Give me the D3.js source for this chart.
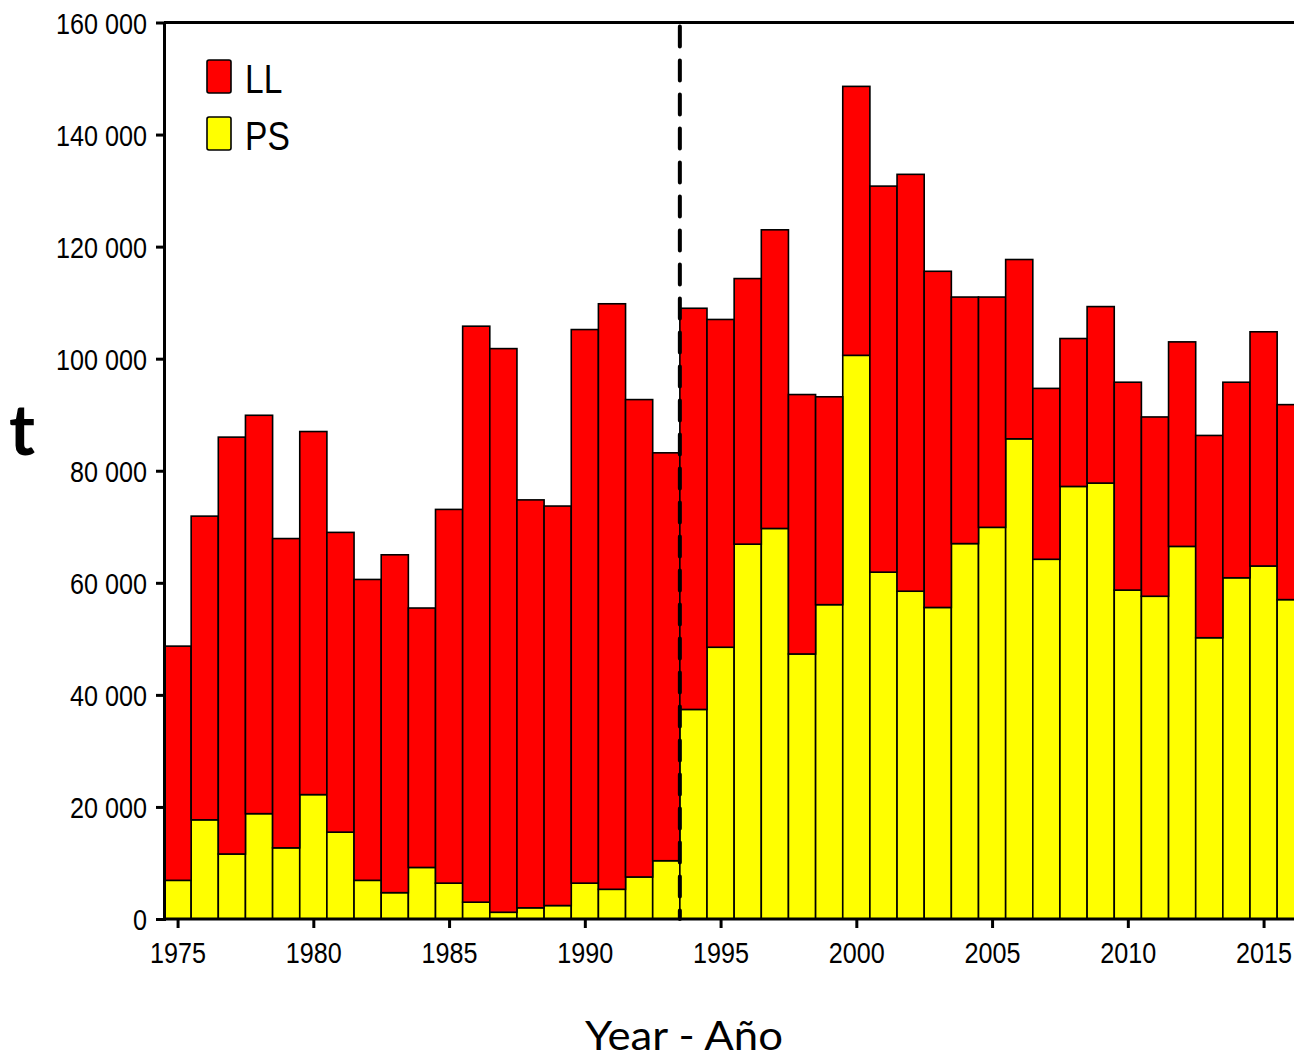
<!DOCTYPE html>
<html>
<head>
<meta charset="utf-8">
<script src="https://cdn.jsdelivr.net/npm/d3@7"></script>
<style>
  body { margin: 0; background: #fff; }
  .narrow { font-family: "Liberation Sans", Arial, sans-serif; }
</style>
</head>
<body>
<svg id="chart"></svg>
<script>
// catch by gear, tonnes
const years = d3.range(1975, 2017);
const psCatch = [
  6900, 17700, 11600, 18800, 12700, 22200, 15500, 6900, 4700, 9200,
  6400, 3000, 1200, 2000, 2400, 6400, 5300, 7500, 10400, 37400,
  48500, 66900, 69700, 47300, 56100, 100600, 61900, 58500, 55600, 67000,
  69900, 85700, 64200, 77200, 77800, 58700, 57600, 66500, 50200, 60900,
  63000, 57000
];
const llCatch = [
  41800, 54200, 74400, 71100, 55200, 64800, 53500, 53700, 60300, 46300,
  66700, 102800, 100600, 72800, 71300, 98800, 104500, 85200, 72800, 71600,
  58500, 47400, 53300, 46300, 37100, 48000, 68900, 74400, 60000, 44000,
  41100, 32000, 30500, 26400, 31500, 37100, 32000, 36500, 36100, 34900,
  41800, 34800
];
const gears = ["PS", "LL"];
const gearColors = { LL: "#ff0000", PS: "#ffff00" };
const legendOrder = ["LL", "PS"];
const yTicks = [0, 20000, 40000, 60000, 80000, 100000, 120000, 140000, 160000];
const xTicks = [1975, 1980, 1985, 1990, 1995, 2000, 2005, 2010, 2015];
const splitYear = 1993.5;

const width = 1294;
const height = 1060;
const left = 164;
const yearW = 27.15;
const narrowK = 0.84; // horizontal squeeze, no narrow font installed

let svg = d3.select("#chart").attr("width", width).attr("height", height);

let rows = years.map((yr, i) => ({ year: yr, PS: psCatch[i], LL: llCatch[i] }));
let stacked = d3.stack().keys(gears)(rows);

let x = d3
  .scaleBand()
  .domain(years)
  .range([left, left + years.length * yearW])
  .padding(0);

let xLin = d3
  .scaleLinear()
  .domain([1974.5, 2016.5])
  .range([left, left + years.length * yearW]);

let y = d3.scaleLinear().domain([0, 160000]).range([919, 22.5]);

let fmt = d3.formatLocale({ decimal: ".", thousands: " ", grouping: [3], currency: ["", ""] }).format(",d");

// bars
svg
  .append("g")
  .selectAll("g")
  .data(stacked)
  .join("g")
  .style("fill", (s) => gearColors[s.key])
  .selectAll("rect")
  .data((s) => s)
  .join("rect")
  .attr("x", (d) => x(d.data.year))
  .attr("y", (d) => y(d[1]))
  .attr("width", x.bandwidth())
  .attr("height", (d) => y(d[0]) - y(d[1]))
  .style("stroke", "#000")
  .style("stroke-width", 1.6);

// frame top line
svg
  .append("line")
  .attr("x1", left)
  .attr("x2", width)
  .attr("y1", y(160000))
  .attr("y2", y(160000))
  .style("stroke", "#000")
  .style("stroke-width", 3);

// y axis
let yAxis = svg
  .append("g")
  .attr("class", "narrow")
  .attr("transform", `translate(${left},0)`)
  .call(d3.axisLeft(y).tickValues(yTicks).tickFormat(fmt).tickSize(8).tickPadding(9));
yAxis.select(".domain").style("stroke-width", 3);
yAxis.selectAll(".tick line").style("stroke-width", 3);
yAxis
  .selectAll(".tick text")
  .style("font-size", "30px")
  .attr("dy", "0.36em")
  .attr("x", -17 / narrowK)
  .attr("transform", `scale(${narrowK},1)`);
yAxis.select(".tick:last-of-type line").remove();

// x axis
let xAxis = svg
  .append("g")
  .attr("class", "narrow")
  .attr("transform", `translate(0,${y(0)})`)
  .call(d3.axisBottom(xLin).tickValues(xTicks).tickFormat(d3.format("d")).tickSize(9).tickPadding(14).tickSizeOuter(0));
xAxis.select(".domain").attr("d", `M${left},0H${width}`).style("stroke-width", 3);
xAxis.selectAll(".tick line").style("stroke-width", 3);
xAxis
  .selectAll(".tick text")
  .style("font-size", "30px")
  .attr("transform", `scale(${narrowK},1)`);

// split line
svg
  .append("line")
  .attr("x1", xLin(splitYear))
  .attr("x2", xLin(splitYear))
  .attr("y1", y(160000) + 4)
  .attr("y2", y(0))
  .style("stroke", "#000")
  .style("stroke-width", 4)
  .style("stroke-linecap", "round")
  .style("stroke-dasharray", "20 14");

// legend
let legend = svg
  .append("g")
  .attr("class", "narrow")
  .selectAll("g")
  .data(legendOrder)
  .join("g")
  .attr("transform", (d, i) => `translate(207,${60 + i * 57})`);

legend
  .append("rect")
  .attr("width", 24)
  .attr("height", 33)
  .attr("rx", 2)
  .style("fill", (d) => gearColors[d])
  .style("stroke", "#000")
  .style("stroke-width", 1.6);

legend
  .append("text")
  .attr("x", 38 / narrowK)
  .attr("y", 33)
  .attr("transform", `scale(${narrowK},1)`)
  .style("font-size", "40px")
  .text((d) => d);

// axis titles
svg
  .append("text")
  .attr("x", 22)
  .attr("y", 455)
  .attr("text-anchor", "middle")
  .style("font-family", "Lato, 'Open Sans', sans-serif")
  .style("font-weight", "bold")
  .style("font-size", "70px")
  .text("t");

svg
  .append("text")
  .attr("x", 684)
  .attr("y", 1050)
  .attr("text-anchor", "middle")
  .attr("textLength", 198)
  .attr("lengthAdjust", "spacingAndGlyphs")
  .style("font-family", "Lato, 'Open Sans', sans-serif")
  .style("font-size", "40px")
  .text("Year - Año");
</script>
</body>
</html>
